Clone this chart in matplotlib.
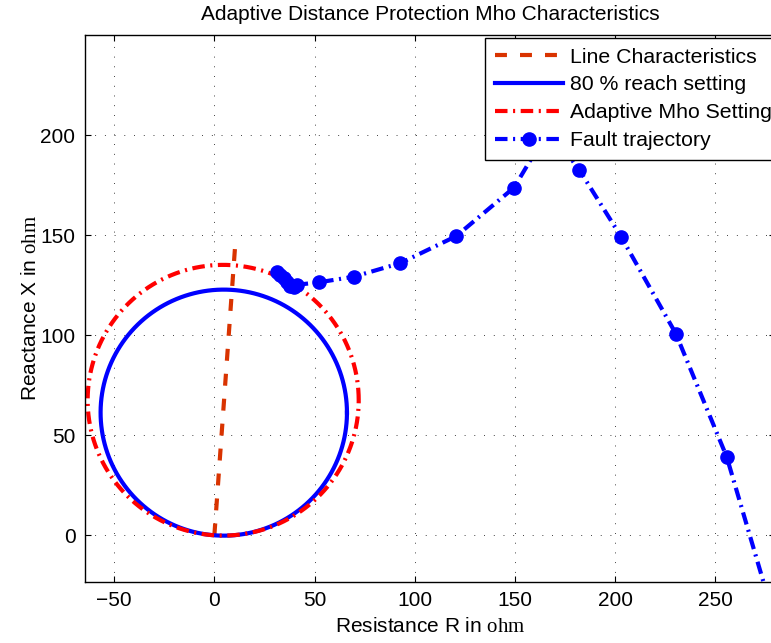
import matplotlib
matplotlib.use("Agg")
import matplotlib.pyplot as plt
import numpy as np

# ---------------- data ----------------
# line impedance characteristic, from origin to line end (R, X in ohm)
line_R = [0.0, 10.5]
line_X = [0.0, 146.5]

# mho circles pass through the origin; diameter ends at the reach point
reach80_R, reach80_X = 9.4, 122.6
adaptive_R, adaptive_X = 8.8, 135.0

# apparent impedance seen by the relay during the fault
fault_R = [31.3, 33.0, 34.6, 36.2, 37.9, 39.6, 41.2, 52.0, 69.5, 92.8,
           120.7, 149.6, 167.0, 182.0, 203.0, 230.3, 255.7, 281.0]
fault_X = [131.8, 130.2, 128.5, 126.6, 124.4, 124.3, 125.2, 126.4, 129.2, 136.0,
           149.5, 173.8, 203.0, 182.8, 149.2, 100.8, 39.2, -47.0]

x_ticks = [-50, 0, 50, 100, 150, 200, 250]
y_ticks = [0, 50, 100, 150, 200]


def mho_circle(zr, zx, n=500):
    # circle with diameter from origin to (zr, zx)
    cr, cx = zr / 2.0, zx / 2.0
    rad = np.hypot(zr, zx) / 2.0
    t = np.linspace(0, 2 * np.pi, n)
    return cr + rad * np.cos(t), cx + rad * np.sin(t)


plt.rcParams['font.family'] = ['Liberation Sans', 'DejaVu Sans']
plt.rcParams['mathtext.fontset'] = 'custom'
plt.rcParams['mathtext.rm'] = 'Liberation Serif'
plt.rcParams['lines.scale_dashes'] = False
plt.rcParams['font.size'] = 15

fig = plt.figure(figsize=(7.71, 6.43), dpi=100)
ax = fig.add_axes([0.1104, 0.0953, 0.8953, 0.8502])

ax.plot(line_R, line_X, color='#d93300', lw=3, dashes=(8.6, 9.4),
        label='Line Characteristics')

r80, x80 = mho_circle(reach80_R, reach80_X)
ax.plot(r80, x80, color='#0000ff', lw=3, label='80 % reach setting')

rad_, xad_ = mho_circle(adaptive_R, adaptive_X)
ax.plot(rad_, xad_, color='#ff0000', lw=3, dashes=(9, 4, 1.5, 4),
        label='Adaptive Mho Setting')

ax.plot(fault_R, fault_X, color='#0000ff', lw=3, dashes=(9, 4, 1.5, 4),
        marker='o', markersize=9.5, label='Fault trajectory')

ax.set_xlim(-64.5, 280)
ax.set_ylim(-23.2, 250)
ax.set_xticks(x_ticks)
ax.set_yticks(y_ticks)

ax.grid(True, color='k', lw=0.6, dashes=(0.6, 6.4))
ax.tick_params(direction='in', top=True, right=True, length=4.5, width=0.8,
               labelsize=15, pad=7)
for sp in ax.spines.values():
    sp.set_linewidth(1.0)

ax.set_title('Adaptive Distance Protection Mho Characteristics', fontsize=15, pad=11)
ax.set_xlabel('Resistance R in $\\mathrm{ohm}$', fontsize=15, labelpad=5)
ax.set_ylabel('Reactance X in $\\mathrm{ohm}$', fontsize=15, labelpad=0)

leg = ax.legend(loc='upper left', bbox_to_anchor=(485 / 771, (643 - 38) / 643),
                bbox_transform=fig.transFigure, borderaxespad=0, numpoints=1,
                fancybox=False, framealpha=1, edgecolor='k', fontsize=15.3,
                handlelength=3.2, handletextpad=0.35, labelspacing=0.42,
                borderpad=0.45)
leg.get_frame().set_linewidth(1.0)

plt.savefig("out.png", dpi=100)
